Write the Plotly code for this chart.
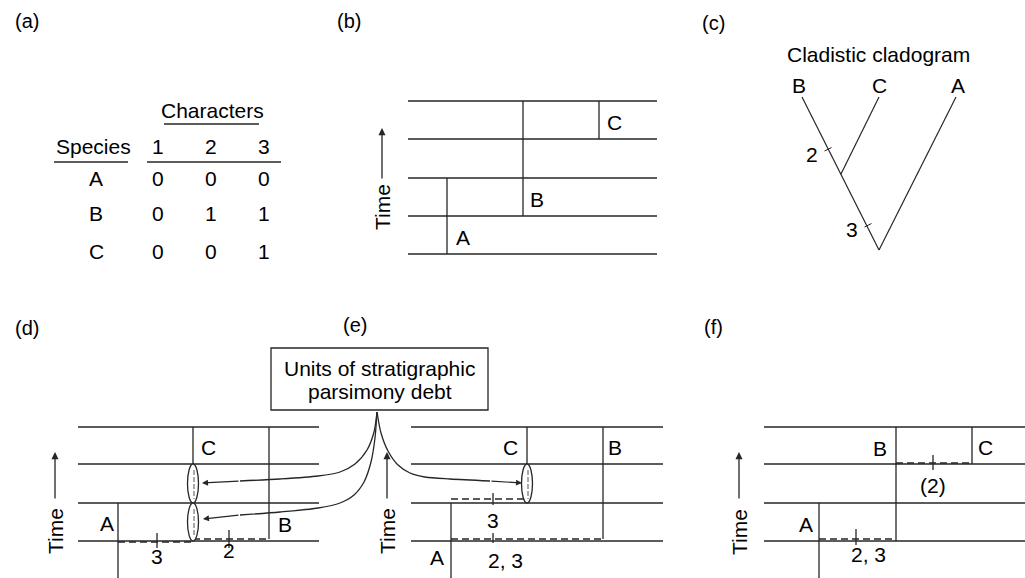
import plotly.graph_objects as go

# ---------------- data ----------------
FONT = "Arial, Liberation Sans, Helvetica, sans-serif"
FS = 21
INK = "#262626"

# (a) character table
species = ["A", "B", "C"]
characters = ["1", "2", "3"]
char_states = [[0, 0, 0], [0, 1, 1], [0, 0, 1]]
table_col_x = [158, 211, 264]
table_row_y = [178, 213, 251]
table_species_x = 96
table_header_y = 146

# panel letters
panel_labels = ["(a)", "(b)", "(c)", "(d)", "(e)", "(f)"]
panel_label_x = [27, 349, 713, 27, 355, 713]
panel_label_y = [21, 21, 23, 328, 325, 327]

# (b) stratigraphic ranges
b_layer_y = [101, 139, 178, 216, 254]
b_layer_x = [408, 657]
b_taxa = ["A", "B", "C"]
b_range_x = [447, 523, 599]
b_range_top = [178, 101, 101]
b_range_bot = [254, 216, 139]
b_label_x = [463, 537, 614]
b_label_y = [237, 199, 122]

# (c) cladogram
c_tips = ["B", "C", "A"]
c_tip_label_x = [799, 879, 958]
c_tip_label_y = [85, 85, 85]
c_tip_x = [802, 879, 956]
c_tip_y = [97, 97, 97]
c_root = (879, 250)
c_node_BC = (841, 174)
c_tick_labels = ["2", "3"]
c_tick_x0 = [824.5, 864.5]
c_tick_y0 = [151, 227]
c_tick_x1 = [831.5, 871.5]
c_tick_y1 = [147.5, 223.5]
c_tick_label_x = [812, 852]
c_tick_label_y = [154, 229]

# (d), (e), (f) common layers
def_layer_y = [427, 464, 503, 541]
bottom_y = 578

# (d)
d_layer_x = [78, 319]
d_range_x = {"A": 118, "C": 193, "B": 269}
d_range_top = {"A": 503, "C": 427, "B": 427}
d_range_bot = {"A": 578, "C": 464, "B": 539}
d_label_x = {"A": 107, "C": 208, "B": 285}
d_label_y = {"A": 523, "C": 447, "B": 524}
d_ghost_x0 = [118, 193]
d_ghost_x1 = [193, 269]
d_ghost_y = [542, 539]
d_tick_x = [157, 229]
d_tick_y0 = [533, 530]
d_tick_y1 = [548, 548]
d_tick_text = ["3", "2"]
d_tick_text_y = [556, 550]
d_debt_cx = [193, 193]
d_debt_y0 = [464, 503]
d_debt_y1 = [503, 541]

# (e)
e_layer_x = [411, 663]
e_range_x = {"A": 451, "C": 527, "B": 603}
e_range_top = {"A": 503, "C": 427, "B": 427}
e_range_bot = {"A": 578, "C": 464, "B": 539}
e_label_x = {"A": 437, "C": 510, "B": 615}
e_label_y = {"A": 557, "C": 447, "B": 447}
e_ghost_x0 = [451, 451]
e_ghost_x1 = [527, 603]
e_ghost_y = [499, 539]
e_tick_x = [493, 493]
e_tick_y0 = [493, 533]
e_tick_y1 = [505, 543]
e_tick_text = ["3", "2, 3"]
e_tick_text_x = [493, 505]
e_tick_text_y = [520, 560]
e_debt_cx = [527]
e_debt_y0 = [464]
e_debt_y1 = [503]

# (f)
f_layer_x = [764, 1025]
f_range_x = {"A": 819, "B": 896, "C": 972}
f_range_top = {"A": 503, "B": 427, "C": 427}
f_range_bot = {"A": 578, "B": 541, "C": 464}
f_label_x = {"A": 806, "B": 880, "C": 985}
f_label_y = {"A": 524, "B": 448, "C": 447}
f_ghost_x0 = [819, 896]
f_ghost_x1 = [896, 972]
f_ghost_y = [539, 463]
f_tick_x = [856, 933]
f_tick_y0 = [529, 455]
f_tick_y1 = [545, 470]
f_tick_text = ["2, 3", "(2)"]
f_tick_text_x = [868, 933]
f_tick_text_y = [554, 485]

# time axis labels: x, arrow top, arrow bottom, text centre y
time_x = [382, 55, 387, 739]
time_arrow_top = [128, 452, 452, 452]
time_arrow_bot = [180, 500, 500, 500]
time_text_y = [207, 531, 531, 532]

# debt box and arrows
box_x = [271, 488]
box_y = [348, 410]
box_lines = ["Units of stratigraphic", "parsimony debt"]
box_line_y = [368, 391]
curve1_x = [377, 374, 367, 355, 340, 318, 280, 240, 202]
curve1_y = [412, 432, 450, 464, 472, 476, 479, 481, 483]
curve2_x = [377, 375, 371, 364, 354, 340, 318, 280, 240, 203]
curve2_y = [412, 438, 462, 482, 495, 503, 508, 512, 515, 519]
curve3_x = [377, 381, 388, 398, 410, 425, 450, 490, 522]
curve3_y = [412, 433, 451, 465, 473, 477, 479, 481, 483]

# ---------------- figure ----------------
fig = go.Figure()
annotations = []
shapes = []


def seg(x0, y0, x1, y1, dash=None, width=1.3, color=INK):
    shapes.append(dict(type="line", x0=x0, y0=y0, x1=x1, y1=y1, xref="x", yref="y",
                       line=dict(color=color, width=width, dash=dash) if dash else dict(color=color, width=width)))


def txt(x, y, s, size=FS, angle=0):
    annotations.append(dict(x=x, y=y, text=s, showarrow=False, xref="x", yref="y",
                            xanchor="center", yanchor="middle", textangle=angle,
                            font=dict(family=FONT, size=size, color="#000")))


DASH = "7px,4px"

# panel letters
for s, x, y in zip(panel_labels, panel_label_x, panel_label_y):
    txt(x, y, s, size=20)

# (a)
txt(212, 110, "Characters")
seg(164, 124, 259, 124)
txt(93, table_header_y, "Species")
seg(54, 162, 128, 162)
seg(147, 162, 281, 162)
for c, x in zip(characters, table_col_x):
    txt(x, table_header_y, c)
for sp, row, y in zip(species, char_states, table_row_y):
    txt(table_species_x, y, sp)
    for v, x in zip(row, table_col_x):
        txt(x, y, str(v))

# (b)
for y in b_layer_y:
    seg(b_layer_x[0], y, b_layer_x[1], y)
for t, x, y0, y1, lx, ly in zip(b_taxa, b_range_x, b_range_top, b_range_bot, b_label_x, b_label_y):
    seg(x, y0, x, y1)
    txt(lx, ly, t)

# (c)
txt(878, 54, "Cladistic cladogram")
for t, lx, ly in zip(c_tips, c_tip_label_x, c_tip_label_y):
    txt(lx, ly, t)
seg(c_tip_x[0], c_tip_y[0], c_root[0], c_root[1], width=1.2)
seg(c_tip_x[1], c_tip_y[1], c_node_BC[0], c_node_BC[1], width=1.2)
seg(c_tip_x[2], c_tip_y[2], c_root[0], c_root[1], width=1.2)
for i in range(2):
    seg(c_tick_x0[i], c_tick_y0[i], c_tick_x1[i], c_tick_y1[i], width=1)
    txt(c_tick_label_x[i], c_tick_label_y[i], c_tick_labels[i])


def strat_panel(layer_x, rx, rtop, rbot, lx, ly, gx0, gx1, gy, tx, ty0, ty1, ttext, ttx, tty):
    for y in def_layer_y:
        seg(layer_x[0], y, layer_x[1], y)
    for k in rx:
        seg(rx[k], rtop[k], rx[k], rbot[k])
        txt(lx[k], ly[k], k)
    for a, b, y in zip(gx0, gx1, gy):
        seg(a, y, b, y, dash=DASH, width=1.4)
    for x, a, b in zip(tx, ty0, ty1):
        seg(x, a, x, b, width=1.3)
    for s, x, y in zip(ttext, ttx, tty):
        txt(x, y, s)


strat_panel(d_layer_x, d_range_x, d_range_top, d_range_bot, d_label_x, d_label_y,
            d_ghost_x0, d_ghost_x1, d_ghost_y, d_tick_x, d_tick_y0, d_tick_y1,
            d_tick_text, d_tick_x, d_tick_text_y)
strat_panel(e_layer_x, e_range_x, e_range_top, e_range_bot, e_label_x, e_label_y,
            e_ghost_x0, e_ghost_x1, e_ghost_y, e_tick_x, e_tick_y0, e_tick_y1,
            e_tick_text, e_tick_text_x, e_tick_text_y)
strat_panel(f_layer_x, f_range_x, f_range_top, f_range_bot, f_label_x, f_label_y,
            f_ghost_x0, f_ghost_x1, f_ghost_y, f_tick_x, f_tick_y0, f_tick_y1,
            f_tick_text, f_tick_text_x, f_tick_text_y)

# debt ellipses
for cx, y0, y1 in list(zip(d_debt_cx, d_debt_y0, d_debt_y1)) + list(zip(e_debt_cx, e_debt_y0, e_debt_y1)):
    shapes.append(dict(type="circle", xref="x", yref="y", x0=cx - 5.5, x1=cx + 5.5, y0=y0, y1=y1,
                       fillcolor="white", line=dict(color=INK, width=1.3), layer="above"))
    shapes.append(dict(type="line", xref="x", yref="y", x0=cx + 1, x1=cx + 1, y0=y0 + 6, y1=y1 - 4,
                       line=dict(color="#555", width=1, dash="5px,2px"), layer="above"))

# time arrows
for x, a, b, y in zip(time_x, time_arrow_top, time_arrow_bot, time_text_y):
    annotations.append(dict(x=x, y=a, ax=x, ay=b, xref="x", yref="y", axref="x", ayref="y",
                            showarrow=True, arrowhead=2, arrowsize=1.1, arrowwidth=1.3,
                            arrowcolor=INK, text=""))
    txt(x, y, "Time", angle=-90)

# debt box
shapes.append(dict(type="rect", xref="x", yref="y", x0=box_x[0], x1=box_x[1], y0=box_y[0], y1=box_y[1],
                   line=dict(color=INK, width=1.3), fillcolor="rgba(0,0,0,0)"))
for s, y in zip(box_lines, box_line_y):
    txt((box_x[0] + box_x[1]) / 2, y, s)

for cx, cy in [(curve1_x, curve1_y), (curve2_x, curve2_y), (curve3_x, curve3_y)]:
    fig.add_trace(go.Scatter(x=cx[:-1], y=cy[:-1], mode="lines", line=dict(color=INK, width=1.3, shape="spline", smoothing=0.8),
                             hoverinfo="skip", showlegend=False))
    annotations.append(dict(x=cx[-1], y=cy[-1], ax=cx[-2], ay=cy[-2], xref="x", yref="y", axref="x", ayref="y",
                            showarrow=True, arrowhead=2, arrowsize=1, arrowwidth=1.2, arrowcolor=INK, text=""))

fig.update_layout(
    width=1025, height=578, margin=dict(l=0, r=0, t=0, b=0),
    paper_bgcolor="white", plot_bgcolor="white",
    xaxis=dict(range=[0, 1025], visible=False, fixedrange=True),
    yaxis=dict(range=[578, 0], visible=False, fixedrange=True),
    shapes=shapes, annotations=annotations, showlegend=False,
)
fig.write_html("out.html", config={"displayModeBar": False},
               post_script="document.body.style.margin='0';document.body.style.overflow='hidden';")
